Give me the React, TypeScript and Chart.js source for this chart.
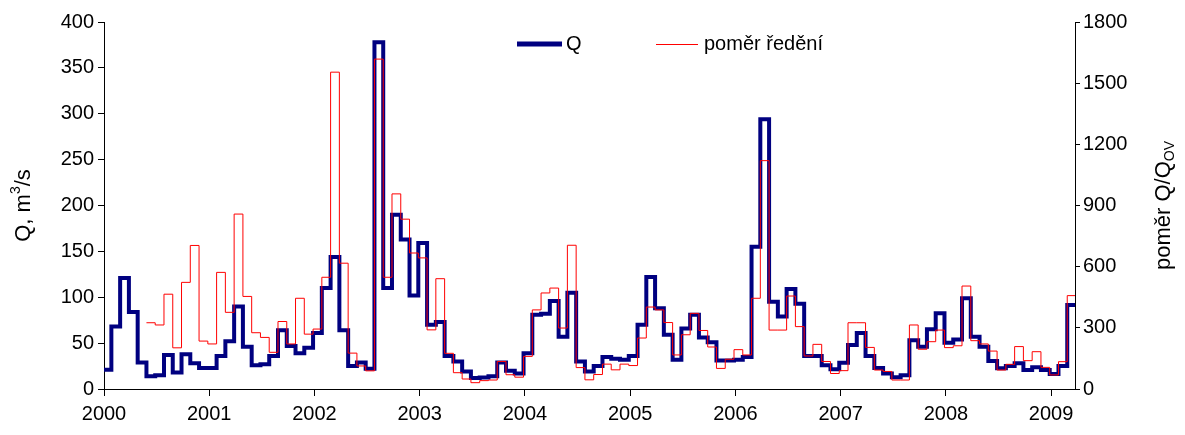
import React, { useEffect, useRef } from "react";
import { Chart, registerables } from "chart.js";

Chart.register(...registerables);

// ---- data (monthly steps, Jan 2000 – Mar 2009) ----
const startYear = 2000;
const axisEndYear = 2009.227;
const stepOffsetMonths = -0.16; // steps change slightly before each month start

const qValues: number[] = [
  21, 68, 121, 84, 29, 14, 15, 37, 18, 38, 28, 23,
  23, 36, 52, 90, 46, 26, 27, 36, 64, 47, 39, 45,
  61, 110, 144, 64, 25, 29, 22, 378, 110, 190, 163, 102,
  159, 70, 73, 36, 30, 19, 12, 12.5, 14, 29, 20, 17,
  39, 81, 82, 96, 57, 105, 30, 19, 25, 35, 33, 32,
  36, 70, 122, 88, 59, 32, 66, 81, 56, 51, 31, 31,
  32, 35, 155, 294, 95, 79, 109, 93, 36, 36, 26, 21.5,
  28.7, 48, 61, 36, 23, 17, 12.7, 15, 53, 46, 65, 82.5,
  50.5, 54, 99, 57, 46, 30.5, 22.5, 25, 28, 20.7, 23.6, 20.7,
  16.3, 25, 91.5,
];

const ratioValues: (number | null)[] = [
  null, null, null, null, null, 325, 314, 465, 202, 523, 704, 235,
  221, 572, 376, 858, 454, 276, 253, 180, 331, 221, 445, 269,
  294, 548, 1554, 617, 176, 113, 89, 1618, 548, 957, 833, 667,
  643, 290, 541, 175, 80, 49, 31, 41, 44, 135, 70, 58,
  160, 388, 471, 495, 299, 705, 105, 45, 71, 122, 94, 122,
  115, 250, 402, 388, 326, 167, 266, 371, 287, 206, 101, 146,
  193, 167, 445, 1120, 289, 289, 456, 306, 162, 219, 135, 76,
  90, 325, 325, 204, 93, 86, 44, 44, 314, 195, 232, 289,
  203, 212, 505, 237, 221, 186, 93, 121, 208, 139, 183, 106,
  69, 134, 458,
];

const yearTicks = [2000, 2001, 2002, 2003, 2004, 2005, 2006, 2007, 2008, 2009];
const qTicks = [0, 50, 100, 150, 200, 250, 300, 350, 400];
const ratioTicks = [0, 300, 600, 900, 1200, 1500, 1800];

const legendQ = "Q";
const legendRatio = "poměr ředění";
const leftTitle = ["Q, m", "3", "/s"];
const rightTitle = ["poměr Q/Q", "OV"];

const FONT = '"Liberation Sans", Arial, sans-serif';
const FS = 20;
const TFS = 22;

function toPoints(vals: (number | null)[]) {
  const pts = vals.map((v, i) => ({
    x: Math.max(startYear, startYear + (i + stepOffsetMonths) / 12),
    y: v,
  }));
  pts.push({ x: axisEndYear, y: vals[vals.length - 1] });
  return pts;
}

const overlayPlugin = {
  id: "overlay",
  afterDraw(chart: any) {
    const ctx = chart.ctx as CanvasRenderingContext2D;
    const a = chart.chartArea;
    const midY = (a.top + a.bottom) / 2;
    ctx.save();
    ctx.fillStyle = "#000";
    ctx.textBaseline = "middle";
    ctx.font = `${FS}px ${FONT}`;

    // legend
    const ly = 44;
    ctx.strokeStyle = "#000080";
    ctx.lineWidth = 5;
    ctx.beginPath();
    ctx.moveTo(517, ly);
    ctx.lineTo(562, ly);
    ctx.stroke();
    ctx.fillText(legendQ, 566, ly);
    ctx.strokeStyle = "#ff0000";
    ctx.lineWidth = 1;
    ctx.beginPath();
    ctx.moveTo(656, ly + 0.5);
    ctx.lineTo(698, ly + 0.5);
    ctx.stroke();
    ctx.fillText(legendRatio, 704, ly);

    // left title
    {
      const small = Math.round(TFS * 0.65);
      ctx.font = `${TFS}px ${FONT}`;
      const w0 = ctx.measureText(leftTitle[0]).width;
      const w2 = ctx.measureText(leftTitle[2]).width;
      ctx.font = `${small}px ${FONT}`;
      const w1 = ctx.measureText(leftTitle[1]).width;
      const total = w0 + w1 + w2;
      ctx.save();
      ctx.translate(24, midY);
      ctx.rotate(-Math.PI / 2);
      let x = -total / 2;
      ctx.textAlign = "left";
      ctx.font = `${TFS}px ${FONT}`;
      ctx.fillText(leftTitle[0], x, 0);
      x += w0;
      ctx.font = `${small}px ${FONT}`;
      ctx.fillText(leftTitle[1], x, -TFS * 0.35);
      x += w1;
      ctx.font = `${TFS}px ${FONT}`;
      ctx.fillText(leftTitle[2], x, 0);
      ctx.restore();
    }

    // right title
    {
      const small = Math.round(TFS * 0.65);
      ctx.font = `${TFS}px ${FONT}`;
      const w0 = ctx.measureText(rightTitle[0]).width;
      ctx.font = `${small}px ${FONT}`;
      const w1 = ctx.measureText(rightTitle[1]).width;
      const total = w0 + w1;
      ctx.save();
      ctx.translate(1164, midY);
      ctx.rotate(-Math.PI / 2);
      let x = -total / 2;
      ctx.font = `${TFS}px ${FONT}`;
      ctx.fillText(rightTitle[0], x, 0);
      x += w0;
      ctx.font = `${small}px ${FONT}`;
      ctx.fillText(rightTitle[1], x, TFS * 0.3);
      ctx.restore();
    }
    ctx.restore();
  },
};

export default function App() {
  const ref = useRef<HTMLCanvasElement | null>(null);

  useEffect(() => {
    document.body.style.margin = "0";
    if (!ref.current) return;
    const font = { family: FONT, size: FS };
    const chart = new Chart(ref.current, {
      type: "line",
      data: {
        datasets: [
          {
            label: legendQ,
            data: toPoints(qValues) as any,
            borderColor: "#000080",
            borderWidth: 4,
            stepped: "before",
            pointRadius: 0,
            borderJoinStyle: "miter",
            yAxisID: "y",
            order: 2,
          },
          {
            label: legendRatio,
            data: toPoints(ratioValues) as any,
            borderColor: "#ff0000",
            borderWidth: 1,
            stepped: "before",
            pointRadius: 0,
            spanGaps: false,
            yAxisID: "y2",
            order: 1,
          },
        ],
      },
      options: {
        animation: false,
        responsive: false,
        events: [],
        layout: { padding: { top: 22, left: 0, right: 0, bottom: 0 } },
        plugins: { legend: { display: false }, tooltip: { enabled: false } },
        scales: {
          x: {
            type: "linear",
            min: yearTicks[0],
            max: axisEndYear,
            afterBuildTicks: (s: any) => {
              s.ticks = yearTicks.map((v) => ({ value: v }));
            },
            ticks: {
              color: "#000",
              font,
              padding: 6,
              maxRotation: 0,
              autoSkip: false,
              callback: (v: any) => String(v),
            },
            grid: { drawOnChartArea: false, tickLength: 7, color: "#000" },
            border: { color: "#000", width: 1 },
            afterFit: (s: any) => {
              s.height = 46;
            },
          },
          y: {
            position: "left",
            min: 0,
            max: 400,
            afterBuildTicks: (s: any) => {
              s.ticks = qTicks.map((v) => ({ value: v }));
            },
            ticks: { color: "#000", font, padding: 4, callback: (v: any) => String(v) },
            grid: { drawOnChartArea: false, tickLength: 6, color: "#000" },
            border: { color: "#000", width: 1 },
            afterFit: (s: any) => {
              s.width = 104;
            },
          },
          y2: {
            position: "right",
            min: 0,
            max: 1800,
            afterBuildTicks: (s: any) => {
              s.ticks = ratioTicks.map((v) => ({ value: v }));
            },
            ticks: { color: "#000", font, padding: 3, callback: (v: any) => String(v) },
            grid: { drawOnChartArea: false, tickLength: 5, color: "#000" },
            border: { color: "#000", width: 1 },
            afterFit: (s: any) => {
              s.width = 110;
            },
          },
        },
      },
      plugins: [overlayPlugin],
    });
    return () => chart.destroy();
  }, []);

  return (
    <div style={{ width: 1185, height: 435, position: "relative", background: "#fff" }}>
      <canvas ref={ref} width={1185} height={435} style={{ display: "block" }} />
    </div>
  );
}
